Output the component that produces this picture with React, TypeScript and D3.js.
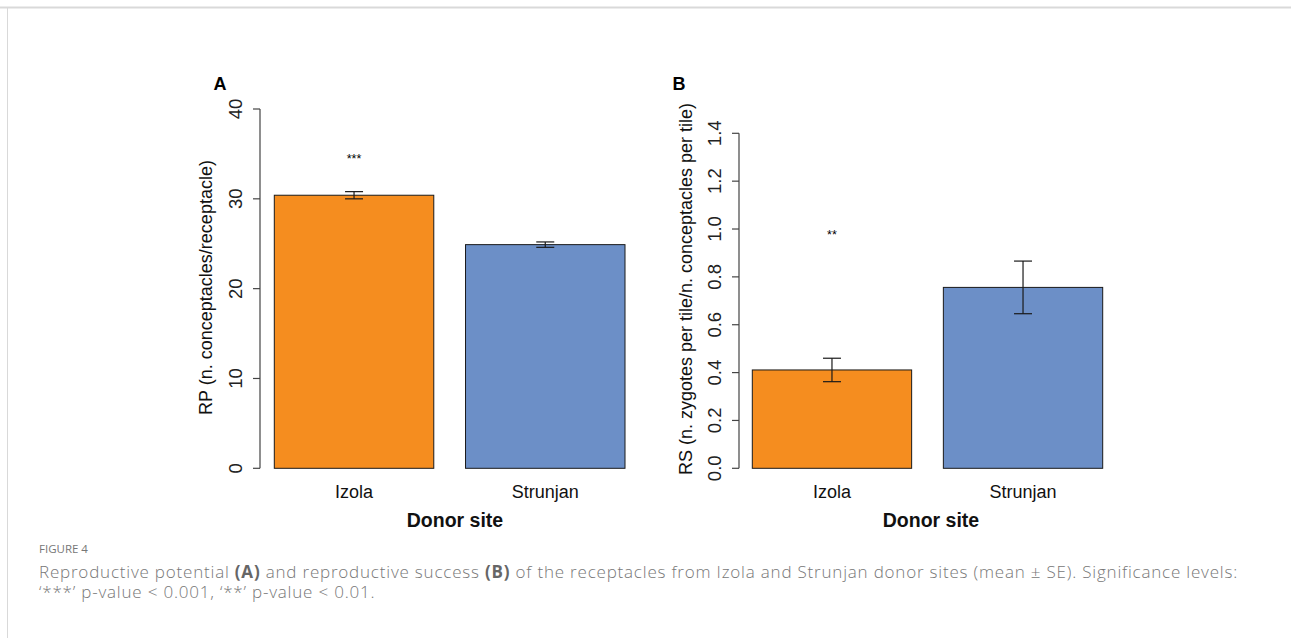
import React, { useEffect, useRef } from 'react';
import * as d3 from 'd3';

// values (mean ± SE)
const sites = ['Izola', 'Strunjan'];
const rpMean = [30.4, 24.9];
const rpSE = [0.4, 0.3];
const rsMean = [0.411, 0.756];
const rsSE = [0.049, 0.11];
const barColors = ['#F58D1F', '#6C8FC7'];
const rpTicks = [0, 10, 20, 30, 40];
const rsTicks = [0, 0.2, 0.4, 0.6, 0.8, 1.0, 1.2, 1.4];
const rpStars = { site: 'Izola', value: 34.0, label: '***' };
const rsStars = { site: 'Izola', value: 0.96, label: '**' };

const W = 1291;
const H = 638;

const App = () => {
  const ref = useRef<SVGSVGElement>(null);

  useEffect(() => {
    const svg = d3.select(ref.current);
    svg.selectAll('*').remove();

    // figure frame (top rule + left rule)
    svg.append('line').attr('x1', 0).attr('x2', W).attr('y1', 7.5).attr('y2', 7.5)
      .attr('stroke', '#d9d9d9').attr('stroke-width', 2);
    svg.append('line').attr('x1', 7.5).attr('x2', 7.5).attr('y1', 7).attr('y2', H)
      .attr('stroke', '#d9d9d9').attr('stroke-width', 1);

    const font = 'Liberation Sans, Arial, sans-serif';

    const panel = (opts: {
      letter: string;
      letterX: number;
      axisX: number;
      barLeft: number;
      barRight: number;
      yTop: number;
      max: number;
      ticks: number[];
      fmt: (v: number) => string;
      tickLabelX: number;
      title: string;
      titleX: number;
      titleY: number;
      mean: number[];
      se: number[];
      stars: { site: string; value: number; label: string };
      xTitleX: number;
    }) => {
      const y = d3.scaleLinear().domain([0, opts.max]).range([468.3, opts.yTop]);
      const x = d3.scaleBand().domain(sites).range([opts.barLeft, opts.barRight])
        .paddingInner(0.166).paddingOuter(0);
      const g = svg.append('g');

      // bars
      g.selectAll('rect.bar').data(sites).join('rect')
        .attr('x', (d) => x(d)!)
        .attr('width', x.bandwidth())
        .attr('y', (d, i) => y(opts.mean[i]))
        .attr('height', (d, i) => y(0) - y(opts.mean[i]))
        .attr('fill', (d, i) => barColors[i])
        .attr('stroke', '#1a1a1a')
        .attr('stroke-width', 1);

      // error bars
      sites.forEach((s, i) => {
        const cx = x(s)! + x.bandwidth() / 2;
        const lo = y(opts.mean[i] - opts.se[i]);
        const hi = y(opts.mean[i] + opts.se[i]);
        g.append('line').attr('x1', cx).attr('x2', cx).attr('y1', lo).attr('y2', hi)
          .attr('stroke', '#1a1a1a').attr('stroke-width', 1.2);
        [lo, hi].forEach((yy) => {
          g.append('line').attr('x1', cx - 9).attr('x2', cx + 9).attr('y1', yy).attr('y2', yy)
            .attr('stroke', '#1a1a1a').attr('stroke-width', 1.2);
        });
      });

      // significance stars
      g.append('text')
        .attr('x', x(opts.stars.site)! + x.bandwidth() / 2)
        .attr('y', y(opts.stars.value))
        .attr('text-anchor', 'middle')
        .attr('font-family', font)
        .attr('font-size', 12.5)
        .text(opts.stars.label);

      // y axis, R style
      g.append('line').attr('x1', opts.axisX).attr('x2', opts.axisX)
        .attr('y1', y(0)).attr('y2', y(opts.max))
        .attr('stroke', '#444').attr('stroke-width', 1.2);
      opts.ticks.forEach((t) => {
        g.append('line').attr('x1', opts.axisX - 7).attr('x2', opts.axisX)
          .attr('y1', y(t)).attr('y2', y(t)).attr('stroke', '#444').attr('stroke-width', 1.2);
        g.append('text')
          .attr('transform', `translate(${opts.tickLabelX},${y(t)}) rotate(-90)`)
          .attr('text-anchor', 'middle')
          .attr('font-family', font)
          .attr('font-size', 18.5)
          .attr('fill', '#222')
          .text(opts.fmt(t));
      });

      // y title
      g.append('text')
        .attr('transform', `translate(${opts.titleX},${opts.titleY}) rotate(-90)`)
        .attr('text-anchor', 'middle')
        .attr('font-family', font)
        .attr('font-size', 18)
        .attr('fill', '#111')
        .text(opts.title);

      // category labels
      sites.forEach((s) => {
        g.append('text')
          .attr('x', x(s)! + x.bandwidth() / 2)
          .attr('y', 498)
          .attr('text-anchor', 'middle')
          .attr('font-family', font)
          .attr('font-size', 18)
          .attr('fill', '#111')
          .text(s);
      });

      g.append('text')
        .attr('x', opts.xTitleX)
        .attr('y', 527)
        .attr('text-anchor', 'middle')
        .attr('font-family', font)
        .attr('font-size', 19.5)
        .attr('font-weight', 'bold')
        .attr('fill', '#111')
        .text('Donor site');

      g.append('text')
        .attr('x', opts.letterX)
        .attr('y', 89.5)
        .attr('text-anchor', 'middle')
        .attr('font-family', font)
        .attr('font-size', 18)
        .attr('font-weight', 'bold')
        .text(opts.letter);
    };

    panel({
      letter: 'A', letterX: 220, axisX: 260, barLeft: 274.3, barRight: 625,
      yTop: 109, max: 40, ticks: rpTicks, fmt: (v) => String(v), tickLabelX: 242,
      title: 'RP (n. conceptacles/receptacle)', titleX: 212, titleY: 287.5,
      mean: rpMean, se: rpSE, stars: rpStars, xTitleX: 455,
    });

    panel({
      letter: 'B', letterX: 679, axisX: 739, barLeft: 752.3, barRight: 1102.7,
      yTop: 133.3, max: 1.4, ticks: rsTicks, fmt: (v) => v.toFixed(1), tickLabelX: 721,
      title: 'RS (n. zygotes per tile/n. conceptacles per tile)', titleX: 692, titleY: 289,
      mean: rsMean, se: rsSE, stars: rsStars, xTitleX: 931,
    });

    // caption
    const capFont = '"Open Sans", Lato, sans-serif';
    svg.append('text').attr('x', 39).attr('y', 553)
      .attr('font-family', capFont).attr('font-size', 11.5).attr('fill', '#777')
      .text('FIGURE 4');

    const line1 = svg.append('text').attr('x', 39).attr('y', 578)
      .attr('font-family', capFont).attr('font-size', 17).attr('font-weight', 300)
      .attr('letter-spacing', 0.8)
      .attr('fill', '#777');
    const parts: [string, boolean][] = [
      ['Reproductive potential ', false],
      ['(A)', true],
      [' and reproductive success ', false],
      ['(B)', true],
      [' of the receptacles from Izola and Strunjan donor sites (mean \u00B1 SE). Significance levels:', false],
    ];
    parts.forEach(([t, b]) => {
      line1.append('tspan').attr('font-weight', b ? 700 : 300)
        .attr('fill', b ? '#666' : '#777').text(t);
    });

    svg.append('text').attr('x', 39).attr('y', 598)
      .attr('font-family', capFont).attr('font-size', 17).attr('font-weight', 300)
      .attr('letter-spacing', 0.8)
      .attr('fill', '#777')
      .text('\u2018***\u2019 p-value < 0.001, \u2018**\u2019 p-value < 0.01.');
  }, []);

  return (
    <div style={{ position: 'absolute', left: 0, top: 0, width: W, height: H, background: '#fff' }}>
      <svg ref={ref} width={W} height={H} />
    </div>
  );
};

export default App;
